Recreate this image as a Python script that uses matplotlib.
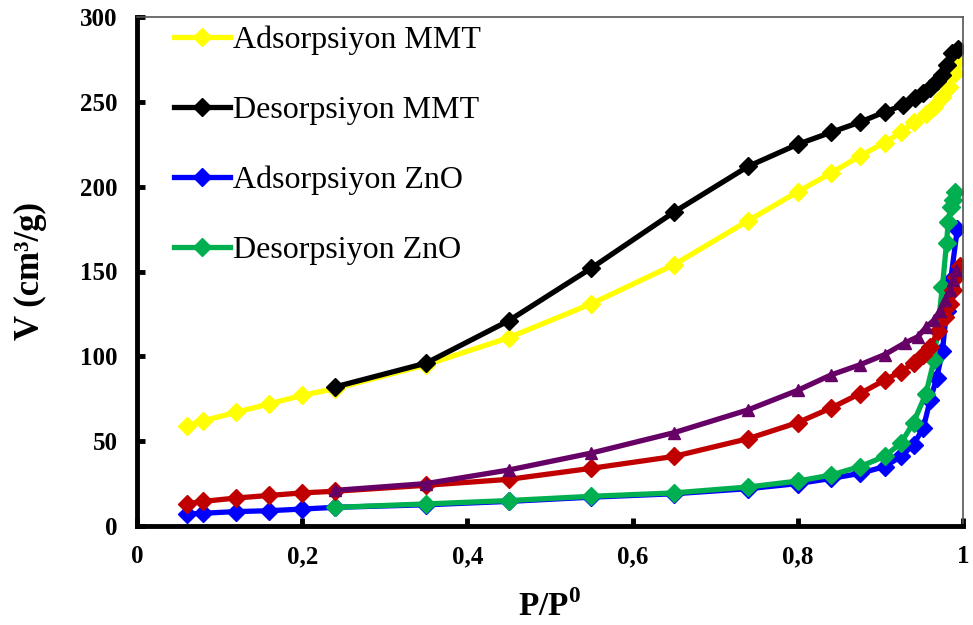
import matplotlib
matplotlib.use("Agg")
import matplotlib.pyplot as plt
from matplotlib.ticker import FuncFormatter

plt.rcParams["font.family"] = "Liberation Serif"
plt.rcParams["mathtext.fontset"] = "custom"
plt.rcParams["mathtext.rm"] = "Liberation Serif"
plt.rcParams["mathtext.bf"] = "Liberation Serif:bold"

# MMT adsorption (yellow)
p_ads_mmt = [0.06, 0.08, 0.12, 0.16, 0.20, 0.24, 0.35, 0.45, 0.55, 0.65, 0.74, 0.80,
             0.84, 0.875, 0.905, 0.925, 0.94, 0.955, 0.965, 0.975, 0.983, 0.99, 0.995]
v_ads_mmt = [59, 62, 67, 72, 77, 81, 95, 111, 131, 154, 180, 197,
             208, 218, 226, 232, 238, 243, 247, 253, 259, 267, 275]

# MMT desorption (black)
p_des_mmt = [0.994, 0.987, 0.98, 0.975, 0.968, 0.96, 0.952, 0.942, 0.927, 0.905,
             0.875, 0.84, 0.80, 0.74, 0.65, 0.55, 0.45, 0.35, 0.24]
v_des_mmt = [281, 279, 272, 266, 262, 258, 255, 252, 248, 244,
             238, 232, 225, 212, 185, 152, 121, 96, 82]

# ZnO adsorption (blue)
p_ads_zno = [0.06, 0.08, 0.12, 0.16, 0.20, 0.24, 0.35, 0.45, 0.55, 0.65, 0.74, 0.80,
             0.84, 0.875, 0.905, 0.925, 0.94, 0.952, 0.96, 0.968, 0.975, 0.98, 0.985, 0.993]
v_ads_zno = [7, 7.5, 8.5, 9, 10, 11, 12.5, 14.5, 17, 19, 22, 25,
             28, 31, 35, 41, 48, 58, 74, 87, 103, 127, 145, 175]

# ZnO desorption (green)
p_des_zno = [0.99, 0.988, 0.985, 0.982, 0.98, 0.975, 0.965, 0.955, 0.94, 0.925, 0.905,
             0.875, 0.84, 0.80, 0.74, 0.65, 0.55, 0.45, 0.35, 0.24]
v_des_zno = [197, 192, 188, 179, 167, 141, 98, 78, 61, 49, 41,
             35, 30, 26.5, 23, 19.5, 17.5, 15, 13, 11]

# third sample adsorption (red)
p_ads_3 = [0.06, 0.08, 0.12, 0.16, 0.20, 0.24, 0.35, 0.45, 0.55, 0.65, 0.74, 0.80, 0.84,
           0.875, 0.905, 0.925, 0.94, 0.952, 0.96, 0.97, 0.978, 0.984, 0.988, 0.992, 0.996]
v_ads_3 = [13, 14.5, 16.5, 18, 19.5, 20.5, 24, 27.5, 34, 41, 51.5, 61, 69.5,
           78, 86, 91, 96, 101, 105.5, 115, 123, 131, 139, 147, 153]

# third sample desorption (purple)
p_des_3 = [0.992, 0.988, 0.984, 0.978, 0.972, 0.965, 0.955, 0.945, 0.93, 0.905,
           0.875, 0.84, 0.80, 0.74, 0.65, 0.55, 0.45, 0.35, 0.24]
v_des_3 = [151, 145, 139, 133, 127, 121.5, 117, 111.5, 108, 101,
           95, 89, 80, 68.5, 55, 43, 33, 25, 21]

x_ticks = [0, 0.2, 0.4, 0.6, 0.8, 1.0]
y_ticks = [0, 50, 100, 150, 200, 250, 300]

fig = plt.figure(figsize=(9.73, 6.25), dpi=100)
ax = fig.add_axes([0.1408, 0.1584, 0.849, 0.8144])

lw = 3.8
ms = 9
ax.plot(p_ads_mmt, v_ads_mmt, color="#FFFF00", lw=lw, marker="D", ms=ms, label="Adsorpsiyon MMT")
ax.plot(p_des_mmt, v_des_mmt, color="black", lw=lw, marker="D", ms=ms, label="Desorpsiyon MMT")
ax.plot(p_ads_zno, v_ads_zno, color="#0000FF", lw=lw, marker="D", ms=ms, label="Adsorpsiyon ZnO")
ax.plot(p_des_zno, v_des_zno, color="#00B050", lw=lw, marker="D", ms=ms, label="Desorpsiyon ZnO")
ax.plot(p_ads_3, v_ads_3, color="#C00000", lw=lw, marker="D", ms=ms, label="_nolegend_")
ax.plot(p_des_3, v_des_3, color="#660066", lw=lw, marker="^", ms=ms, label="_nolegend_")

ax.set_xlim(0, 1)
ax.set_ylim(0, 300)
ax.set_xticks(x_ticks)
ax.set_yticks(y_ticks)
ax.xaxis.set_major_formatter(FuncFormatter(lambda v, _: ("%g" % v).replace(".", ",")))

for s in ["left", "bottom"]:
    ax.spines[s].set_linewidth(3.5)
    ax.spines[s].set_color("black")
for s in ["top", "right"]:
    ax.spines[s].set_linewidth(1.2)
    ax.spines[s].set_color("#555555")

ax.tick_params(direction="in", length=6, width=3.5, color="black",
               labelsize=18, pad=14, top=False, right=False)
for lab in ax.get_xticklabels() + ax.get_yticklabels():
    lab.set_fontweight("bold")

ax.set_xlabel(r"P/P$^{\mathbf{0}}$", fontsize=24, fontweight="bold", labelpad=16)
ax.set_ylabel("V (cm³/g)", fontsize=25, fontweight="bold", labelpad=24)

ax.legend(loc="upper left", bbox_to_anchor=(0.022, 1.02), frameon=False, fontsize=23,
          handlelength=1.75, handletextpad=0.1, labelspacing=1.27, borderaxespad=0.2)

fig.savefig("out.png", dpi=100)
